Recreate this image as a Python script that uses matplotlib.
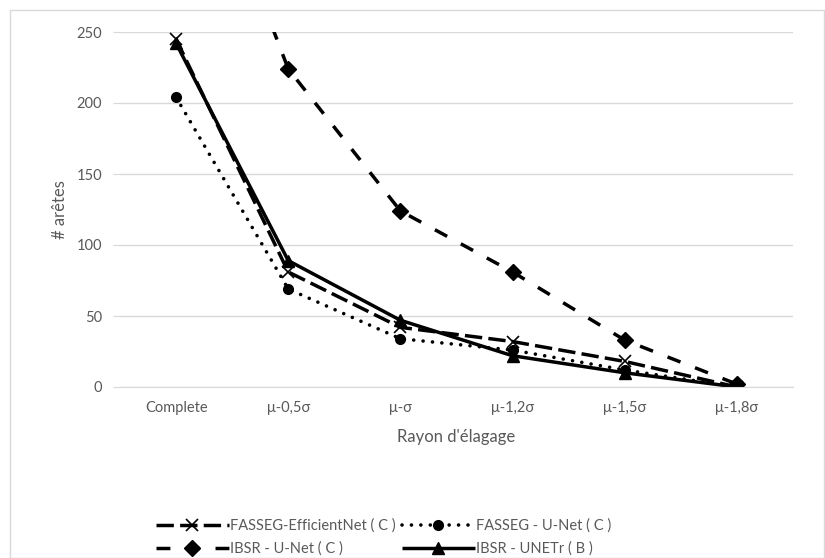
import matplotlib
matplotlib.use("Agg")
import matplotlib.pyplot as plt
import numpy as np

plt.rcParams['font.family'] = ['Lato', 'DejaVu Sans']

categories = ['Complete', 'μ-0,5σ', 'μ-σ', 'μ-1,2σ', 'μ-1,5σ', 'μ-1,8σ']

fasseg_effnet = [245, 81, 42, 32, 18, 0]
fasseg_unet = [204, 69, 34, 26, 12, 0]
ibsr_unet = [430, 224, 124, 81, 33, 2]
ibsr_unetr = [242, 89, 47, 22, 10, 0]

gray = '#595959'
grid = '#d9d9d9'

fig = plt.figure(figsize=(8.25, 5.58), dpi=100)
ax = fig.add_axes([120 / 825, 1 - 387 / 558, 673 / 825, 355 / 558])

x = np.arange(len(categories))

l1, = ax.plot(x, fasseg_effnet, color='black', lw=2.5, dashes=(5, 1.8),
              marker='x', ms=8, mew=1.2, label='FASSEG-EfficientNet ( C )')
l2, = ax.plot(x, fasseg_unet, color='black', lw=2.6, dashes=(0.01, 2.6),
              dash_capstyle='round', marker='o', ms=7, label='FASSEG - U-Net ( C )')
l3, = ax.plot(x, ibsr_unet, color='black', lw=2.5, dashes=(4, 4.5),
              marker='D', ms=8, label='IBSR - U-Net ( C )')
l4, = ax.plot(x, ibsr_unetr, color='black', lw=2.5, solid_capstyle='butt',
              marker='^', ms=8, label='IBSR - UNETr ( B )')

ax.set_xlim(-0.5, len(categories) - 0.5)
ax.set_ylim(0, 250)
ax.set_yticks(np.arange(0, 251, 50))
ax.set_xticks(x)
ax.set_xticklabels(categories)
ax.yaxis.grid(True, color=grid, lw=1)
ax.set_axisbelow(True)
for s in ['top', 'right', 'left']:
    ax.spines[s].set_visible(False)
ax.spines['bottom'].set_color(grid)
ax.tick_params(axis='y', colors=gray, labelsize=10.5, length=5, color=grid, pad=8)
ax.tick_params(axis='x', colors=gray, labelsize=10.5, length=0, pad=10)

ax.set_xlabel("Rayon d'élagage", color=gray, fontsize=12, labelpad=10)
ax.set_ylabel('# arêtes', color=gray, fontsize=12, labelpad=6)

fig.legend([l1, l3, l2, l4], [l1.get_label(), l3.get_label(), l2.get_label(), l4.get_label()],
           ncol=2, loc='lower center', bbox_to_anchor=(0.465, -0.02), frameon=False,
           fontsize=10.5, labelcolor=gray, handlelength=5.0, handletextpad=0.1,
           columnspacing=0.4, labelspacing=0.6)

border = plt.Rectangle((10 / 825, 0), 1 - 11 / 825, 1 - 10 / 558, transform=fig.transFigure,
                       fill=False, edgecolor=grid, lw=1)
fig.patches.append(border)

fig.savefig('out.png', dpi=100)
